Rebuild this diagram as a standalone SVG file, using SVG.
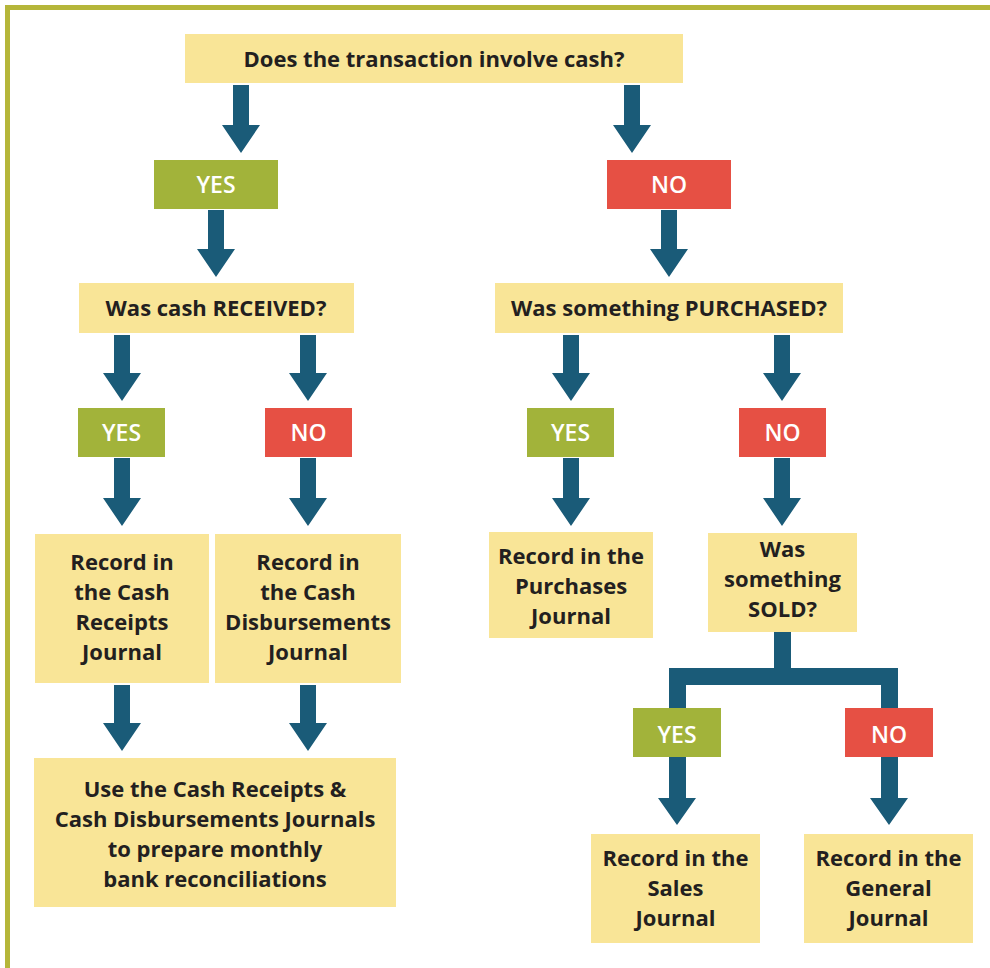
<svg xmlns="http://www.w3.org/2000/svg" width="990" height="968" viewBox="0 0 990 968">
<style>
.box{fill:#f9e597}
.yes{fill:#a2b33a}
.no{fill:#e65044}
.arr{fill:#1a5b78}
.t{font-family:"Open Sans","Liberation Sans",sans-serif;font-weight:700;font-size:22px;fill:#231f20;text-anchor:middle}
.w{font-family:"Open Sans","Liberation Sans",sans-serif;font-weight:600;font-size:23px;fill:#ffffff;text-anchor:middle}
</style>
<rect width="990" height="968" fill="#ffffff"/>
<path d="M7.5 968 V7.5 H990" fill="none" stroke="#b5b63a" stroke-width="5"/>
<g id="connectors">
<path class="arr" d="M233 85 H249 V125 H260 L241 153 L222 125 H233 Z"/>
<path class="arr" d="M624 85 H640 V125 H651 L632 153 L613 125 H624 Z"/>
<path class="arr" d="M208 210 H224 V249 H235 L216 277 L197 249 H208 Z"/>
<path class="arr" d="M661 210 H677 V249 H688 L669 277 L650 249 H661 Z"/>
<path class="arr" d="M114 335 H130 V373 H141 L122 401 L103 373 H114 Z"/>
<path class="arr" d="M300 335 H316 V373 H327 L308 401 L289 373 H300 Z"/>
<path class="arr" d="M563 335 H579 V373 H590 L571 401 L552 373 H563 Z"/>
<path class="arr" d="M774 335 H790 V373 H801 L782 401 L763 373 H774 Z"/>
<path class="arr" d="M114 458 H130 V498 H141 L122 526 L103 498 H114 Z"/>
<path class="arr" d="M300 458 H316 V498 H327 L308 526 L289 498 H300 Z"/>
<path class="arr" d="M563 458 H579 V498 H590 L571 526 L552 498 H563 Z"/>
<path class="arr" d="M774 458 H790 V498 H801 L782 526 L763 498 H774 Z"/>
<path class="arr" d="M114 685 H130 V723 H141 L122 751 L103 723 H114 Z"/>
<path class="arr" d="M300 685 H316 V723 H327 L308 751 L289 723 H300 Z"/>
<path class="arr" d="M774 630 V668 H669 V710 H686 V685 H881 V710 H898 V668 H791 V630 Z"/>
<path class="arr" d="M669 755 H686 V798 H696 L677 825 L658 798 H669 Z"/>
<path class="arr" d="M881 755 H898 V798 H908 L889 825 L870 798 H881 Z"/>
</g>
<g id="q1"><rect class="box" x="185" y="34" width="498" height="49"/><text class="t" x="434" y="67">Does the transaction involve cash?</text></g>
<g id="yes1"><rect class="yes" x="154" y="160" width="124" height="49"/><text class="w" x="216" y="193">YES</text></g>
<g id="no1"><rect class="no" x="607" y="160" width="124" height="49"/><text class="w" x="669" y="193">NO</text></g>
<g id="q2"><rect class="box" x="79" y="283" width="275" height="50"/><text class="t" x="216" y="316">Was cash RECEIVED?</text></g>
<g id="q3"><rect class="box" x="495" y="283" width="348" height="50"/><text class="t" x="669" y="316">Was something PURCHASED?</text></g>
<g id="yes2"><rect class="yes" x="78" y="408" width="87" height="49"/><text class="w" x="121.5" y="441">YES</text></g>
<g id="no2"><rect class="no" x="265" y="408" width="87" height="49"/><text class="w" x="308.5" y="441">NO</text></g>
<g id="yes3"><rect class="yes" x="527" y="408" width="87" height="49"/><text class="w" x="570.5" y="441">YES</text></g>
<g id="no3"><rect class="no" x="739" y="408" width="87" height="49"/><text class="w" x="782.5" y="441">NO</text></g>
<g id="r1"><rect class="box" x="35" y="534" width="174" height="149"/><text class="t" x="122" y="570">Record in<tspan x="122" dy="30">the Cash</tspan><tspan x="122" dy="30">Receipts</tspan><tspan x="122" dy="30">Journal</tspan></text></g>
<g id="r2"><rect class="box" x="215" y="534" width="186" height="149"/><text class="t" x="308" y="570">Record in<tspan x="308" dy="30">the Cash</tspan><tspan x="308" dy="30">Disbursements</tspan><tspan x="308" dy="30">Journal</tspan></text></g>
<g id="r3"><rect class="box" x="489" y="532" width="164" height="106"/><text class="t" x="571" y="564">Record in the<tspan x="571" dy="30">Purchases</tspan><tspan x="571" dy="30">Journal</tspan></text></g>
<g id="q4"><rect class="box" x="708" y="533" width="149" height="99"/><text class="t" x="782.5" y="557">Was<tspan x="782.5" dy="30">something</tspan><tspan x="782.5" dy="30">SOLD?</tspan></text></g>
<g id="r4"><rect class="box" x="34" y="758" width="362" height="149"/><text class="t" x="215" y="797">Use the Cash Receipts &amp;<tspan x="215" dy="30">Cash Disbursements Journals</tspan><tspan x="215" dy="30">to prepare monthly</tspan><tspan x="215" dy="30">bank reconciliations</tspan></text></g>
<g id="yes4"><rect class="yes" x="633" y="708" width="88" height="49"/><text class="w" x="677" y="743">YES</text></g>
<g id="no4"><rect class="no" x="845" y="708" width="88" height="49"/><text class="w" x="889" y="743">NO</text></g>
<g id="r5"><rect class="box" x="591" y="834" width="169" height="109"/><text class="t" x="675.5" y="866">Record in the<tspan x="675.5" dy="30">Sales</tspan><tspan x="675.5" dy="30">Journal</tspan></text></g>
<g id="r6"><rect class="box" x="804" y="834" width="169" height="109"/><text class="t" x="888.5" y="866">Record in the<tspan x="888.5" dy="30">General</tspan><tspan x="888.5" dy="30">Journal</tspan></text></g>
</svg>
